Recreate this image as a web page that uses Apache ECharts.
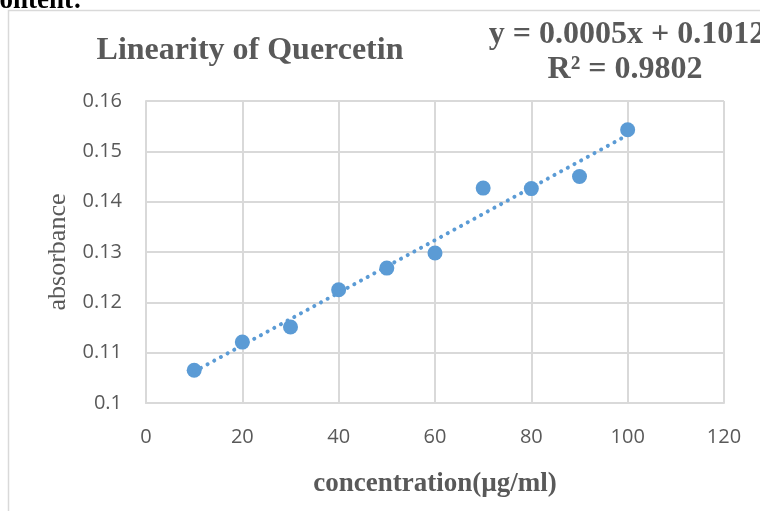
<!DOCTYPE html>
<html>
<head>
<meta charset="utf-8">
<script src="https://cdn.jsdelivr.net/npm/echarts@6/dist/echarts.min.js"></script>
<style>
html,body{margin:0;padding:0;background:#fff;}
#chart{width:760px;height:511px;}
</style>
</head>
<body>
<div id="chart"></div>
<script>
// Data
const concentration = [10, 20, 30, 40, 50, 60, 70, 80, 90, 100];
const absorbance = [0.1065, 0.1121, 0.1151, 0.1225, 0.1268, 0.1298, 0.1427, 0.1426, 0.1450, 0.1543];
const xTicks = [0, 20, 40, 60, 80, 100, 120];
const yTicks = [0.1, 0.11, 0.12, 0.13, 0.14, 0.15, 0.16];
const titleText = 'Linearity of Quercetin';
const equationText = 'y = 0.0005x + 0.1012';
const r2Text = 'R² = 0.9802';

// Least-squares trendline from the data
const n = concentration.length;
const mx = concentration.reduce((a, b) => a + b, 0) / n;
const my = absorbance.reduce((a, b) => a + b, 0) / n;
let sxy = 0, sxx = 0;
for (let i = 0; i < n; i++) {
  sxy += (concentration[i] - mx) * (absorbance[i] - my);
  sxx += (concentration[i] - mx) * (concentration[i] - mx);
}
const slope = sxy / sxx;
const intercept = my - slope * mx;
const xFirst = concentration[0], xLast = concentration[n - 1];
const trend = [[xFirst, intercept + slope * xFirst], [xLast, intercept + slope * xLast]];

const gray = '#595959';
const gridColor = '#d9d9d9';
const serif = '"Liberation Serif", "Times New Roman", serif';
const sans = '"Open Sans", "Noto Sans", sans-serif';

const chart = echarts.init(document.getElementById('chart'));
chart.setOption({
  animation: false,
  grid: { left: 146, right: 36, top: 101, bottom: 108 },
  xAxis: {
    type: 'value',
    min: xTicks[0], max: xTicks[xTicks.length - 1], interval: 20,
    name: 'concentration(µg/ml)',
    nameLocation: 'middle', nameGap: 68,
    nameTextStyle: { fontFamily: serif, fontWeight: 'bold', fontSize: 27, color: gray },
    axisLine: { lineStyle: { color: gridColor, width: 2 } },
    axisTick: { show: false },
    axisLabel: { fontFamily: sans, fontSize: 20, color: gray, margin: 24 },
    splitLine: { show: true, lineStyle: { color: gridColor, width: 2 } }
  },
  yAxis: {
    type: 'value',
    min: yTicks[0], max: yTicks[yTicks.length - 1], interval: 0.01,
    name: 'absorbance',
    nameLocation: 'middle', nameGap: 74,
    nameTextStyle: { fontFamily: serif, fontSize: 26, color: gray },
    axisLine: { show: true, lineStyle: { color: gridColor, width: 2 } },
    axisTick: { show: false },
    axisLabel: { fontFamily: sans, fontSize: 20, color: gray, margin: 24,
      formatter: v => String(+v.toFixed(2)) },
    splitLine: { show: true, lineStyle: { color: gridColor, width: 2 } }
  },
  graphic: [
    { type: 'rect', shape: { x: 8.5, y: 10.5, width: 900, height: 700 },
      style: { fill: 'none', stroke: gridColor, lineWidth: 1.5 }, z: -1 },
    { type: 'text', x: -20, y: 15, style: { text: 'Content:', font: 'bold 27px ' + serif, fill: '#000', verticalAlign: 'bottom' } },
    { type: 'text', x: 250, y: 51, style: { text: titleText, font: 'bold 32px ' + serif, fill: gray, align: 'center', verticalAlign: 'middle' } },
    { type: 'text', x: 627, y: 35, style: { text: equationText, font: 'bold 32px ' + serif, fill: gray, align: 'center', verticalAlign: 'middle' } },
    { type: 'text', x: 625, y: 70, style: { text: r2Text, font: 'bold 32px ' + serif, fill: gray, align: 'center', verticalAlign: 'middle' } }
  ],
  series: [
    {
      type: 'line', data: trend, symbol: 'none', z: 3,
      lineStyle: { color: '#5B9BD5', width: 4, type: [0.1, 7.5], cap: 'round' }
    },
    {
      type: 'scatter', data: concentration.map((x, i) => [x, absorbance[i]]),
      symbol: 'circle', symbolSize: 15, z: 2,
      itemStyle: { color: '#5B9BD5', opacity: 1 }
    }
  ]
});
</script>
</body>
</html>
